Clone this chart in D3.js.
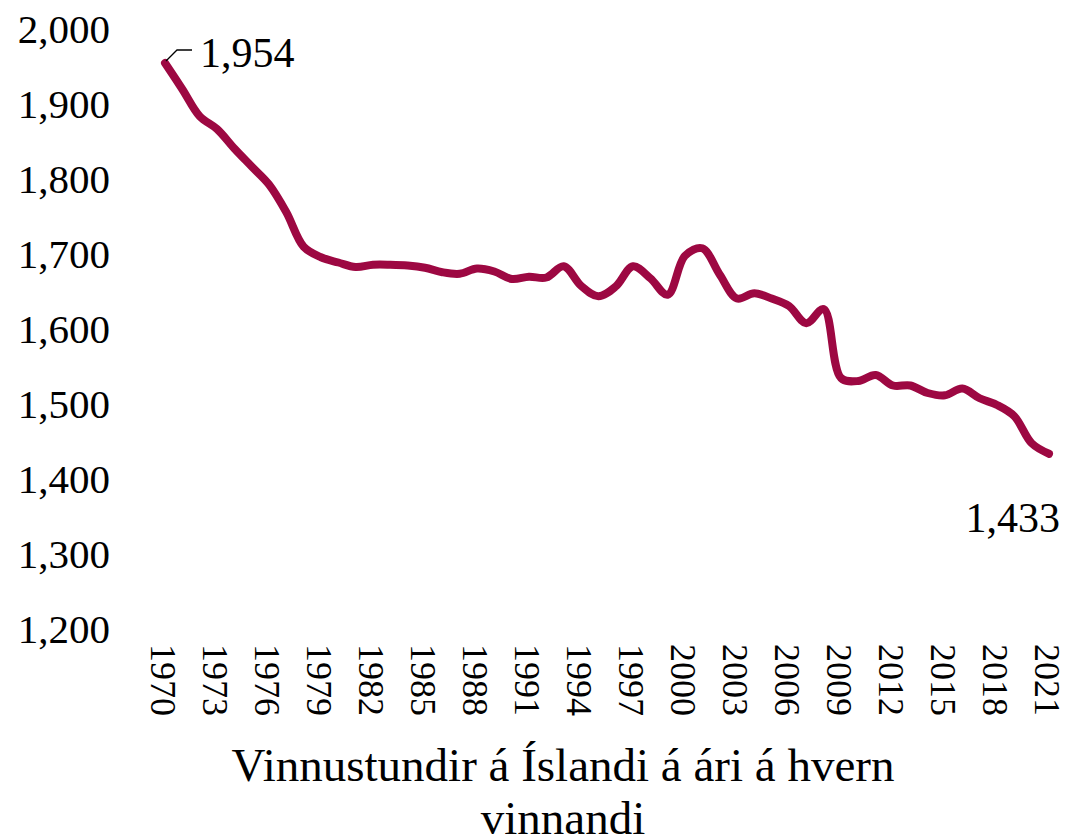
<!DOCTYPE html>
<html>
<head>
<meta charset="utf-8">
<script src="https://cdn.jsdelivr.net/npm/d3@7"></script>
<style>
  body { margin: 0; background: #fff; }
  text { fill: #000; }
</style>
</head>
<body>
<div id="chart"></div>
<script>
// Vinnustundir á ári á hvern vinnandi, 1970-2021
var years = [1970, 1971, 1972, 1973, 1974, 1975, 1976, 1977, 1978, 1979,
  1980, 1981, 1982, 1983, 1984, 1985, 1986, 1987, 1988, 1989,
  1990, 1991, 1992, 1993, 1994, 1995, 1996, 1997, 1998, 1999,
  2000, 2001, 2002, 2003, 2004, 2005, 2006, 2007, 2008, 2009,
  2010, 2011, 2012, 2013, 2014, 2015, 2016, 2017, 2018, 2019,
  2020, 2021]

var hours = [1954, 1919, 1883, 1866, 1840, 1816, 1792, 1755, 1709, 1695,
  1688, 1682, 1685, 1685, 1684, 1681, 1675, 1673, 1680, 1676,
  1666, 1669, 1668, 1683, 1657, 1643, 1656, 1683, 1667, 1645,
  1697, 1707, 1672, 1640, 1647, 1640, 1630, 1607, 1626, 1534,
  1530, 1538, 1524, 1524, 1514, 1511, 1520, 1507, 1498, 1483,
  1447, 1433]

var yTicks = [1200, 1300, 1400, 1500, 1600, 1700, 1800, 1900, 2000]
var xTicks = [1970, 1973, 1976, 1979, 1982, 1985, 1988, 1991, 1994, 1997,
  2000, 2003, 2006, 2009, 2012, 2015, 2018, 2021]

var titleLines = ["Vinnustundir á Íslandi á ári á hvern", "vinnandi"]

var width = 1069, height = 839
var lineColor = "#9d0842"

var svg = d3.select("#chart")
  .append("svg")
  .attr("width", width)
  .attr("height", height)

var x = d3.scaleLinear()
  .domain([1970, 2021])
  .range([165, 1049])

var y = d3.scaleLinear()
  .domain([1200, 2000])
  .range([628.5, 28.5])

var data = years.map(function(yr, i) { return { year: yr, value: hours[i] } })

// y axis - labels only
var yAxis = d3.axisLeft(y)
  .tickValues(yTicks)
  .tickFormat(d3.format(","))
  .tickSize(0)
  .tickPadding(0)

svg.append("g")
  .attr("transform", "translate(110,0)")
  .call(yAxis)
  .call(function(g) { g.select(".domain").remove() })
  .selectAll("text")
  .attr("font-family", "'Liberation Serif', serif")
  .attr("font-size", 41)
  .attr("dy", "0.34em")

// x axis - rotated year labels
var xAxis = d3.axisBottom(x)
  .tickValues(xTicks)
  .tickFormat(d3.format("d"))
  .tickSize(0)
  .tickPadding(0)

svg.append("g")
  .attr("transform", "translate(-2,644)")
  .call(xAxis)
  .call(function(g) { g.select(".domain").remove() })
  .selectAll("text")
  .attr("font-family", "'Liberation Serif', serif")
  .attr("font-size", 36)
  .attr("y", 0)
  .attr("dy", "0.35em")
  .attr("transform", "rotate(90)")
  .style("text-anchor", "start")

// the line
var line = d3.line()
  .x(function(d) { return x(d.year) })
  .y(function(d) { return y(d.value) })
  .curve(d3.curveCatmullRom.alpha(0.5))

svg.append("path")
  .datum(data)
  .attr("d", line)
  .attr("fill", "none")
  .attr("stroke", lineColor)
  .attr("stroke-width", 8)
  .attr("stroke-linecap", "round")
  .attr("stroke-linejoin", "round")

// first / last labels
var first = data[0], last = data[data.length - 1]

svg.append("path")
  .attr("d", "M" + (x(first.year) + 1) + "," + (y(first.value) - 2) +
    " L" + (x(first.year) + 12) + "," + (y(first.value) - 13) +
    " H" + (x(first.year) + 27))
  .attr("fill", "none")
  .attr("stroke", "#000")
  .attr("stroke-width", 1.3)

svg.append("text")
  .attr("x", x(first.year) + 35)
  .attr("y", y(first.value) + 4)
  .attr("font-family", "'Liberation Serif', serif")
  .attr("font-size", 42)
  .text(d3.format(",")(first.value))

svg.append("text")
  .attr("x", x(last.year) + 11)
  .attr("y", y(last.value) + 78)
  .attr("text-anchor", "end")
  .attr("font-family", "'Liberation Serif', serif")
  .attr("font-size", 42)
  .text(d3.format(",")(last.value))

// axis title
svg.append("g")
  .selectAll("text")
  .data(titleLines)
  .enter().append("text")
  .attr("x", 563)
  .attr("y", function(d, i) { return 781 + i * 53 })
  .attr("text-anchor", "middle")
  .attr("font-family", "'Liberation Serif', serif")
  .attr("font-size", 47)
  .text(function(d) { return d })
</script>
</body>
</html>
